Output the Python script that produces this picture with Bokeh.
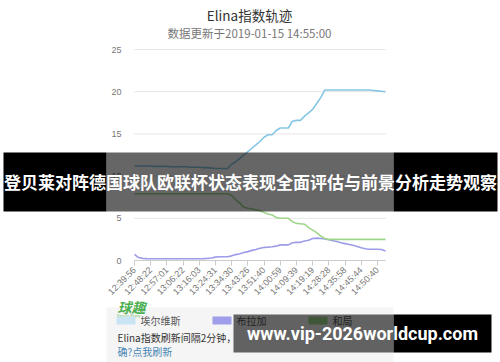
import math
from bokeh.plotting import figure
from bokeh.models import (Range1d, FixedTicker, Label, BoxAnnotation, ColumnDataSource)
from bokeh.embed import file_html
from bokeh.resources import INLINE

title_text = "Elina指数轨迹"
subtitle_text = "数据更新于2019-01-15 14:55:00"
series_names = ["埃尔维斯", "布拉加", "和局"]
series_colors = ["#86c6e3", "#9c9ce9", "#9fd68c"]
swatch_colors = ["#c9e4f2", "#9e9eea", "#9fd68c"]

tick_labels = ["12:39:56", "12:48:22", "12:57:01", "13:06:22", "13:16:03",
               "13:24:31", "13:34:30", "13:43:26", "13:51:40", "14:00:59",
               "14:09:39", "14:19:19", "14:28:28", "14:35:58", "14:45:44",
               "14:50:40"]
tick_index = [0, 4, 8, 12, 16, 20, 24, 28, 32, 36, 40, 44, 48, 52, 56, 60]

elvis = [11.2, 11.2, 11.2, 11.2, 11.2, 11.15, 11.15, 11.15, 11.15, 11.1,
         11.1, 11.1, 11.1, 11.1, 11.05, 11.05, 11.05, 11.0, 11.0, 10.95,
         10.9, 10.9, 10.9, 10.9, 11.4, 11.7, 12.1, 12.5, 12.9, 13.3,
         13.7, 14.1, 14.6, 14.9, 14.9, 15.4, 15.7, 15.7, 15.7, 16.5,
         16.6, 16.6, 17.1, 17.5, 17.9, 18.6, 19.3, 20.2, 20.2, 20.2,
         20.2, 20.2, 20.2, 20.2, 20.2, 20.2, 20.2, 20.2, 20.2, 20.15,
         20.1, 20.05, 20.0]
braga = [0.74, 0.35, 0.25, 0.22, 0.2, 0.2, 0.2, 0.2, 0.2, 0.2,
         0.2, 0.2, 0.2, 0.2, 0.2, 0.2, 0.2, 0.22, 0.25, 0.3,
         0.4, 0.45, 0.45, 0.45, 0.55, 0.7, 0.8, 0.95, 1.05, 1.2,
         1.3, 1.45, 1.55, 1.58, 1.62, 1.7, 1.85, 1.85, 1.85, 2.1,
         2.15, 2.15, 2.3, 2.4, 2.6, 2.65, 2.6, 2.55, 2.45, 2.35,
         2.25, 2.1, 2.0, 1.9, 1.8, 1.65, 1.5, 1.4, 1.33, 1.33,
         1.33, 1.3, 1.13]
draw = [7.9, 7.9, 7.9, 7.9, 7.9, 7.9, 7.9, 7.9, 7.9, 7.9,
        7.9, 7.9, 7.9, 7.9, 7.9, 7.9, 7.9, 7.9, 7.9, 7.9,
        7.9, 7.9, 7.9, 7.9, 7.7, 7.2, 6.8, 6.3, 6.2, 6.1,
        6.0, 5.9, 5.7, 5.5, 5.4, 5.1, 5.0, 5.0, 5.0, 4.6,
        4.4, 4.35, 4.3, 3.9, 3.6, 3.3, 2.9, 2.6, 2.5, 2.5,
        2.5, 2.5, 2.5, 2.5, 2.5, 2.5, 2.5, 2.5, 2.5, 2.5,
        2.5, 2.5, 2.5]
y_ticks = [0, 5, 10, 15, 20, 25]

banner_text = "登贝莱对阵德国球队欧联杯状态表现全面评估与前景分析走势观察"
url_text = "www.vip-2026worldcup.com"
note_text = "Elina指数刷新间隔2分钟，"
link_text = "确?点我刷新"

W, H = 500, 362
FL, FR, FT, FB = 134, 385, 49, 260  # plot-area edges on the canvas
n = len(elvis)
XMAX = n - 1
YMAX = 25
kx = XMAX / (FR - FL)
ky = YMAX / (FB - FT)

xs = list(range(n))

p = figure(width=W, height=H, output_backend="svg", toolbar_location=None,
           x_range=Range1d(-FL * kx, XMAX + (W - FR) * kx),
           y_range=Range1d(-(H - FB) * ky, YMAX + FT * ky),
           min_border=0)
p.outline_line_color = None
p.background_fill_color = "white"
p.border_fill_color = "white"
p.grid.visible = False

CJK = "Noto Sans CJK SC"
LAT = "Liberation Sans"

# axes (drawn inside the full-canvas frame)
xa = p.xaxis[0]
xa.fixed_location = 0
xa.bounds = (0, XMAX)
xa.ticker = FixedTicker(ticks=tick_index)
xa.major_label_overrides = {i: t for i, t in zip(tick_index, tick_labels)}
xa.major_label_orientation = math.pi / 4
xa.major_label_text_font = LAT
xa.major_label_text_font_size = "9px"
xa.major_label_text_color = "#777777"
xa.axis_line_color = "#cccccc"
xa.major_tick_line_color = "#cccccc"
xa.major_tick_in = 0
xa.major_tick_out = 5
xa.minor_tick_line_color = None
xa.major_label_standoff = 3

ya = p.yaxis[0]
ya.fixed_location = 0
ya.bounds = (0, YMAX)
ya.ticker = FixedTicker(ticks=y_ticks)
ya.axis_line_color = None
ya.major_tick_line_color = None
ya.minor_tick_line_color = None
ya.major_label_text_font = LAT
ya.major_label_text_font_size = "9px"
ya.major_label_text_color = "#777777"
ya.major_label_standoff = 7

# horizontal grid lines
p.segment(x0=[0] * len(y_ticks), x1=[XMAX] * len(y_ticks), y0=y_ticks, y1=y_ticks,
          line_color="#e6e6e6", line_width=1)

src = ColumnDataSource(dict(x=xs, elvis=elvis, braga=braga, draw=draw))
r1 = p.line("x", "elvis", source=src, line_color=series_colors[0], line_width=1.6)
r2 = p.line("x", "braga", source=src, line_color=series_colors[1], line_width=1.6)
r3 = p.line("x", "draw", source=src, line_color=series_colors[2], line_width=1.6)


def box(x0, y0, x1, y1, color, alpha=1.0, level="overlay"):
    b = BoxAnnotation(left=x0, right=x1, top=H - y0, bottom=H - y1,
                      left_units="screen", right_units="screen",
                      top_units="screen", bottom_units="screen",
                      fill_color=color, fill_alpha=alpha, line_color=None,
                      level=level)
    p.add_layout(b)
    return b


def label(cx, cy, text, size, color, font=CJK, align="center", style="normal"):
    lb = Label(x=cx, y=H - cy, x_units="screen", y_units="screen",
               text=text, text_font=font, text_font_size=size,
               text_color=color, text_align=align, text_baseline="middle",
               text_font_style=style, level="overlay")
    p.add_layout(lb)
    return lb


# titles
label(249, 14, title_text, "13.5px", "#333333")
label(249, 32, subtitle_text, "11.5px", "#777777")

# legend card
box(106, 307, 393, 362, "#f5f5f5", level="underlay")
# logo
label(131, 306, "球趣", "14px", "#4caf50", style="bold italic")
label(128, 315, "Soccer Enjoy", "4px", "#7cbf6a", font=LAT)

# legend (swatch + name for each series)
legend_x = [116, 212, 308]
for lx, nm, c in zip(legend_x, series_names, swatch_colors):
    box(lx, 316, lx + 19, 324, c)
    label(lx + 24, 320, nm, "10px", "#555555", align="left")

label(117, 337, note_text, "10px", "#333333", align="left")
label(117, 351, link_text, "10px", "#4a86b4", align="left")

# top banner
box(3, 152, 106, 211, "black", 1.0)
box(106, 152, 393, 211, "black", 0.6)
box(393, 152, 497, 211, "black", 1.0)
label(250, 181, banner_text, "17px", "white", style="bold")

# bottom banner
box(233, 314, 393, 352, "black", 0.6)
box(393, 314, 491, 352, "black", 1.0)
label(362, 333, url_text, "18px", "white", font="Roboto", style="bold")

open("out.html", "w").write(file_html(p, INLINE))
